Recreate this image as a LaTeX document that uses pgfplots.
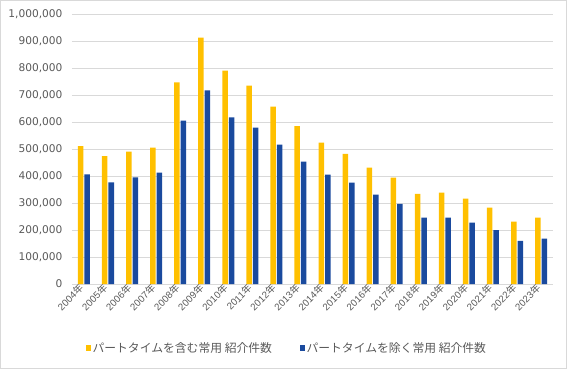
\documentclass[border=0pt]{standalone}
\usepackage{pgfplots}
\pgfplotsset{compat=1.18}
\usepackage{fontspec}
\setmainfont{Liberation Sans}
\newfontfamily\cjk{Noto Sans CJK JP}
\newfontfamily\dvs{DejaVu Sans}
\definecolor{yel}{HTML}{FFC000}
\definecolor{blu}{HTML}{1A4A9E}
\definecolor{txt}{HTML}{595959}
\definecolor{grd}{HTML}{D9D9D9}
\newcommand{\yr}[1]{\fontsize{9.7bp}{11bp}\selectfont #1{\cjk 年}}
\begin{document}
\begin{tikzpicture}
\draw[grd, line width=0.75bp] (0.5bp,0.5bp) rectangle (566.5bp,368.5bp);
\begin{axis}[
  at={(72bp,85bp)}, anchor=south west,
  scale only axis, width=481bp, height=270bp,
  ybar=1bp, bar width=5.5bp,
  xmin=-0.5, xmax=19.5, ymin=0, ymax=1000000,
  ytick={0,100000,200000,300000,400000,500000,600000,700000,800000,900000,1000000},
  scaled y ticks=false,
  yticklabel={\dvs\fontsize{10.6bp}{12bp}\selectfont\pgfmathprintnumber[fixed,1000 sep={,},assume math mode=true]{\tick}},
  xtick=data,
  xticklabels={{\yr{2004}},{\yr{2005}},{\yr{2006}},{\yr{2007}},{\yr{2008}},{\yr{2009}},{\yr{2010}},{\yr{2011}},{\yr{2012}},{\yr{2013}},{\yr{2014}},{\yr{2015}},{\yr{2016}},{\yr{2017}},{\yr{2018}},{\yr{2019}},{\yr{2020}},{\yr{2021}},{\yr{2022}},{\yr{2023}}},
  tick label style={text=txt},
  x tick label style={rotate=45, anchor=east},
  y tick label style={xshift=-6bp},
  ymajorgrids, major grid style={grd, line width=0.75bp},
  major tick length=0pt,
  axis line style={draw=none},
  legend image code/.code={\draw[#1,draw=none] (0bp,-2.75bp) rectangle (5.5bp,2.75bp);},
  legend style={at={(0.446,-0.237)}, anchor=center, draw=none, fill=none,
    legend columns=2, font=\cjk\fontsize{11.8bp}{13bp}\selectfont, text=txt,
    nodes={inner sep=1.5bp}},
]
\addplot[fill=yel, draw=none] coordinates {
(0,510000) (1,473000) (2,490000) (3,505000) (4,746000) (5,912000) (6,790000) (7,734000) (8,657000) (9,584000)
(10,523000) (11,482000) (12,431000) (13,394000) (14,334000) (15,338000) (16,316000) (17,283000) (18,231000) (19,246000)};
\addplot[fill=blu, draw=none] coordinates {
(0,406000) (1,376000) (2,395000) (3,412000) (4,605000) (5,717000) (6,617000) (7,579000) (8,516000) (9,453000)
(10,405000) (11,375000) (12,331000) (13,297000) (14,246000) (15,246000) (16,227000) (17,199000) (18,160000) (19,168000)};
\legend{{パートタイムを含む常用 紹介件数\kern26bp}, {パートタイムを除く常用 紹介件数}}
\end{axis}
\end{tikzpicture}
\end{document}
